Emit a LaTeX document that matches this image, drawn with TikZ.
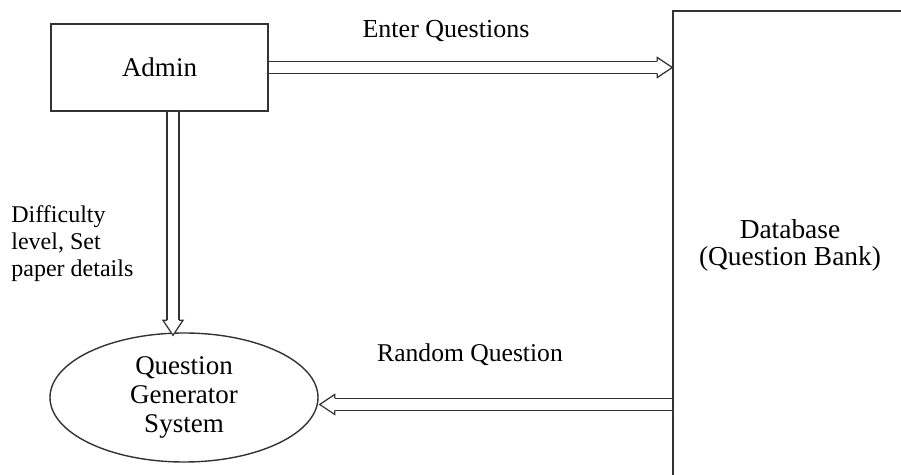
\documentclass[tikz,border=0pt]{standalone}
\usepackage{fontspec}
\setmainfont{Liberation Serif}
\usetikzlibrary{arrows.meta}
\usetikzlibrary{shapes.geometric}
\usetikzlibrary{decorations.markings}

\tikzset{
  entity/.style={draw=black!80, line width=0.7pt, rectangle, inner sep=0pt, font=\fontsize{13.5}{14}\selectfont},
  process/.style={draw=black!80, line width=0.7pt, ellipse, inner sep=0pt, align=center,
    minimum width=134pt, minimum height=64.5pt, font=\fontsize{13.5}{14.5}\selectfont},
  flow/.style={preaction={draw=black!80, line width=0.6pt, double=white, double distance=5.4pt, shorten >=7.5pt},
    postaction={decorate}, decoration={markings, mark=at position 1 with {
      \fill[white] (-7.5pt,5pt) -- (0pt,0pt) -- (-7.5pt,-5pt) -- cycle;
      \draw[black!80, line width=0.6pt, line join=miter]
        (-7.5pt,3pt) -- (-7.5pt,5pt) -- (0pt,0pt) -- (-7.5pt,-5pt) -- (-7.5pt,-3pt);}}},
  lbl/.style={font=\fontsize{13}{14}\selectfont, inner sep=0pt}
}

\begin{document}
\begin{tikzpicture}[x=0.5pt,y=-0.5pt]
\fill[white] (0,0) rectangle (901,475);
\clip (0,0) rectangle (901,475);
% boxes
\node[entity, minimum width=108.5pt, minimum height=43.5pt] (admin) at (159.5,67.5) {Admin};
\node[entity, minimum width=118.5pt, minimum height=239.5pt] (db) at (791.5,250.5) {};
\node[lbl, align=center, font=\fontsize{13.7}{13.5}\selectfont] (dblabel) at (790,245) {Database\\(Question Bank)};
\node[process] (qgs) at (184,397.5) {Question\\Generator\\System};
% flows
\path[flow] (admin.east) -- (admin.east -| db.west);
\path[flow] ([xshift=6.75pt]admin.south) -- ([xshift=-5.5pt,yshift=-1.5pt]qgs.north);
\path[flow] ([yshift=-3.5pt]qgs.east -| db.west) -- ([yshift=-3.5pt,xshift=0.5pt]qgs.east);
% labels
\node[lbl] (enterq) at (446,31) {Enter Questions};
\node[lbl, font=\fontsize{12.8}{14}\selectfont] (randq) at (470,355) {Random Question};
\node[lbl, align=left, anchor=west, font=\fontsize{12}{13.5}\selectfont] (diff) at (11,244) {Difficulty\\level, Set\\paper details};
\end{tikzpicture}
\end{document}
